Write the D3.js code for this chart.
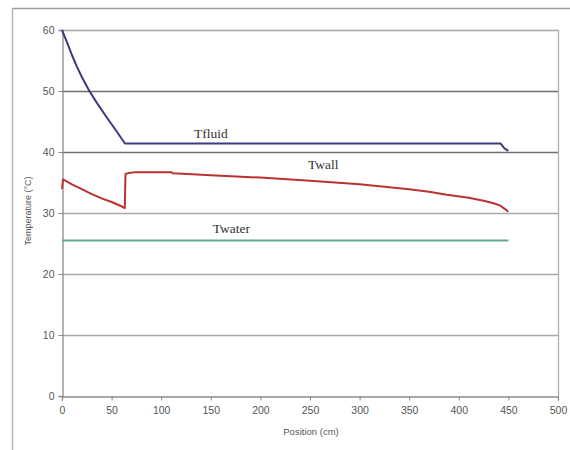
<!DOCTYPE html>
<html>
<head>
<meta charset="utf-8">
<script src="https://cdn.jsdelivr.net/npm/d3@7"></script>
<style>
  html, body { margin: 0; padding: 0; background: #fff; }
  svg { display: block; }
</style>
</head>
<body>
<svg id="chart" width="570" height="450"></svg>
<script>
// Temperature profiles along the exchanger
const xTicks = [0, 50, 100, 150, 200, 250, 300, 350, 400, 450, 500];
const yTicks = [0, 10, 20, 30, 40, 50, 60];

const tfluidPos = [0, 5, 10, 15, 20, 27.6, 35, 45, 55, 63.5, 442, 446, 450];
const tfluidVal = [60, 58, 55.9, 54, 52.3, 50, 48.1, 45.7, 43.4, 41.4, 41.4, 40.6, 40.2];

const twallPos = [0, 1, 10, 20, 30, 40, 50, 60, 63.3, 64, 66, 74, 110, 112, 150, 200, 250, 300, 325, 350, 370, 388, 410, 425, 435, 442, 447, 450];
const twallVal = [33.9, 35.5, 34.7, 33.9, 33.1, 32.4, 31.8, 31.1, 30.8, 36.4, 36.5, 36.7, 36.7, 36.5, 36.2, 35.8, 35.3, 34.7, 34.3, 33.9, 33.5, 33.0, 32.5, 32.0, 31.6, 31.2, 30.6, 30.2];

const twaterPos = [0, 450];
const twaterVal = [25.5, 25.5];

const seriesNames = ["Tfluid", "Twall", "Twater"];
const labelAnchors = [[133, 42.3], [248, 37.2], [152, 26.8]]; // [position, temperature] for series names

const svg = d3.select("#chart");
const plotLeft = 62, plotRight = 558, plotTop = 30, plotBottom = 396;

const x = d3.scaleLinear().domain([0, 500]).range([plotLeft, plotRight]);
const y = d3.scaleLinear().domain([0, 60]).range([plotBottom, plotTop]);

// outer frame
svg.append("line").attr("x1", 12).attr("x2", 570).attr("y1", 8.5).attr("y2", 8.5)
  .attr("stroke", "#9a9a9a").attr("stroke-width", 1.5);
svg.append("line").attr("x1", 12.5).attr("x2", 12.5).attr("y1", 8).attr("y2", 450)
  .attr("stroke", "#b5b5b5").attr("stroke-width", 1.5);

// horizontal gridlines
svg.append("g").selectAll("line").data(yTicks.filter(d => d > 0)).join("line")
  .attr("x1", plotLeft).attr("x2", plotRight)
  .attr("y1", d => Math.round(y(d)) + 0.5).attr("y2", d => Math.round(y(d)) + 0.5)
  .attr("stroke", d => (d === 40 || d === 50) ? "#6e6e6e" : "#a8a8a8")
  .attr("stroke-width", 1.3);

// right edge of plot area
svg.append("line").attr("x1", plotRight + 0.5).attr("x2", plotRight + 0.5).attr("y1", plotTop).attr("y2", plotBottom)
  .attr("stroke", "#b0b0b0").attr("stroke-width", 1.3);

// axes
const xAxis = svg.append("g").attr("transform", `translate(0,${plotBottom + 0.5})`)
  .call(d3.axisBottom(x).tickValues(xTicks).tickSize(4).tickPadding(6).tickFormat(d3.format("d")));
const yAxis = svg.append("g").attr("transform", `translate(${plotLeft + 0.5},0)`)
  .call(d3.axisLeft(y).tickValues(yTicks).tickSize(4).tickPadding(4).tickFormat(d3.format("d")));
[xAxis, yAxis].forEach(g => {
  g.select(".domain").attr("stroke", "#8a8a8a").attr("stroke-width", 1.3);
  g.selectAll(".tick line").attr("stroke", "#8a8a8a");
  g.selectAll(".tick text").attr("fill", "#555").attr("font-size", 10.5)
    .attr("font-family", "Liberation Sans, Arial, sans-serif");
});

// axis titles
svg.append("text").attr("x", 311).attr("y", 435).attr("text-anchor", "middle")
  .attr("font-family", "Liberation Sans, Arial, sans-serif").attr("font-size", 9.5).attr("fill", "#555")
  .text("Position (cm)");
svg.append("text").attr("transform", "translate(31,211) rotate(-90)").attr("text-anchor", "middle")
  .attr("font-family", "Liberation Sans, Arial, sans-serif").attr("font-size", 9).attr("fill", "#555")
  .text("Temperature (°C)");

// series
const line = d3.line().x(d => x(d[0])).y(d => y(d[1]));
const series = [
  { pos: tfluidPos, val: tfluidVal, color: "#3b3b7e" },
  { pos: twallPos, val: twallVal, color: "#b83232" },
  { pos: twaterPos, val: twaterVal, color: "#5fa890" }
];
svg.append("g").selectAll("path").data(series).join("path")
  .attr("d", s => line(s.pos.map((p, i) => [p, s.val[i]])))
  .attr("fill", "none").attr("stroke", s => s.color).attr("stroke-width", 2)
  .attr("stroke-linejoin", "round");

// series names
svg.append("g").selectAll("text").data(seriesNames).join("text")
  .attr("x", (d, i) => x(labelAnchors[i][0])).attr("y", (d, i) => y(labelAnchors[i][1]))
  .attr("font-family", "Liberation Serif, Times New Roman, serif").attr("font-size", 13.5)
  .attr("fill", "#333")
  .text(d => d);
</script>
</body>
</html>
